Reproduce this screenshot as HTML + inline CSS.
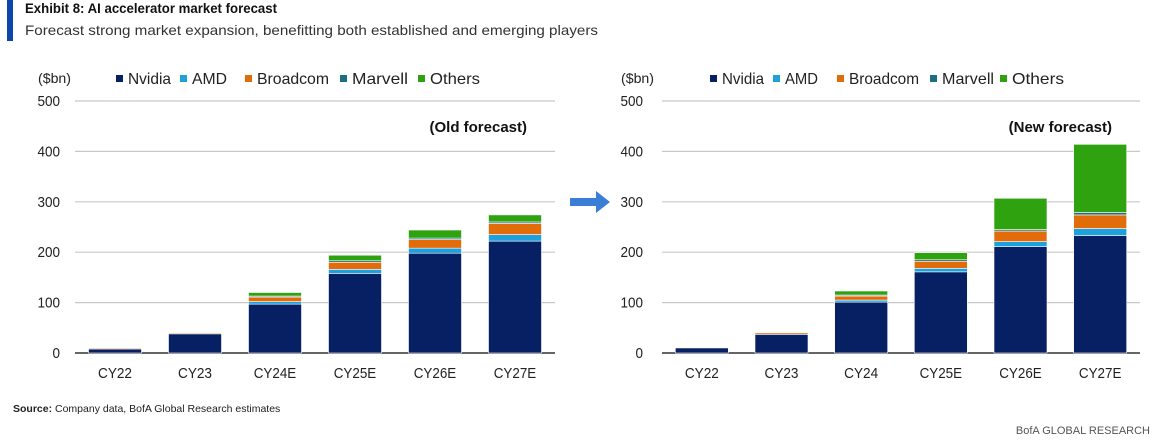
<!DOCTYPE html>
<html><head><meta charset="utf-8"><style>
body{margin:0;background:#fff;}
svg{display:block;font-family:"Liberation Sans",sans-serif;}
</style></head><body>
<svg id="c" width="1169" height="441">
<rect x="7" y="0" width="6" height="41" fill="#0a47a9"/>
<text x="25" y="13" font-size="13.5" font-weight="bold" fill="#111" textLength="252" lengthAdjust="spacingAndGlyphs">Exhibit 8: AI accelerator market forecast</text>
<text x="25" y="35" font-size="14" fill="#333" textLength="573" lengthAdjust="spacingAndGlyphs">Forecast strong market expansion, benefitting both established and emerging players</text>
<g id="left"></g>
<g id="right"></g>
<path d="M570 198 h26 v-7 l14 11 l-14 11 v-7 h-26z" fill="#3a7fd5"/>
<text x="13" y="412" font-size="10.5" fill="#222"><tspan font-weight="bold">Source:</tspan> Company data, BofA Global Research estimates</text>
<text x="1150" y="434" font-size="11" fill="#555" text-anchor="end">BofA GLOBAL RESEARCH</text>
</svg>
<script>
const seriesNames=["Nvidia","AMD","Broadcom","Marvell","Others"];
const colors=["#062063","#1da1dc","#e36c0a","#1b6f80","#2ea20f"];
const oldCats=["CY22","CY23","CY24E","CY25E","CY26E","CY27E"];
const newCats=["CY22","CY23","CY24","CY25E","CY26E","CY27E"];
const oldNvidia=[8,38,97,158,198,222];
const oldAMD=[0,0,5,8,10,13];
const oldBroadcom=[2,2,9,14,17,22];
const oldMarvell=[1,0,2,3,3,3];
const oldOthers=[1,1,7,11,16,14];
const newNvidia=[10,37,101,161,211,233];
const newAMD=[0,0,4,7,10,14];
const newBroadcom=[0,3,8,14,21,27];
const newMarvell=[0,0,2,3,3,5];
const newOthers=[0,1,8,14,62,135];
const yTicks=[0,100,200,300,400,500];
const NS="http://www.w3.org/2000/svg";
function mk(parent,tag,attrs){const e=document.createElementNS(NS,tag);for(const k in attrs)e.setAttribute(k,attrs[k]);parent.appendChild(e);return e;}
function panel(g,x0,x1,cats,series,label,tickX,legX,key,sqOff,txtW){
  const y0=353,y1=101;
  const ys=v=>y0-(v/500)*(y0-y1);
  const step=(x1-x0)/cats.length;
  yTicks.forEach(t=>{
    const l=mk(g,"line",{x1:x0,x2:x1,y1:ys(t),y2:ys(t),stroke:t===0?"#333":"#c8c8c8","stroke-width":t===0?1.5:1.2});
    
    
    const tx=mk(g,"text",{x:tickX,y:ys(t)+5,"font-size":15,fill:"#222","text-anchor":"end",textLength:String(t).length*7.5,lengthAdjust:"spacingAndGlyphs"});tx.textContent=t;
    
    
  });
  cats.forEach((c,i)=>{
    const cx=x0+step*(i+0.5);
    let acc=0;
    series.forEach((s,j)=>{
      const v=s[i];if(v<=0)return;
      const top=ys(acc+v),bot=ys(acc);
      const r=mk(g,"rect",{x:cx-26.5,width:53,y:top,height:Math.max(bot-top,0.5),fill:colors[j],stroke:"#fff","stroke-width":0.6});
      
      
      acc+=v;
    });
    const t=mk(g,"text",{x:cx,y:378,"font-size":15,fill:"#222","text-anchor":"middle",textLength:c.length*8.5,lengthAdjust:"spacingAndGlyphs"});t.textContent=c;
    
    
  });
  const u=mk(g,"text",{x:tickX+11,y:83,"font-size":14,fill:"#222","text-anchor":"end",textLength:33,lengthAdjust:"spacingAndGlyphs"});u.textContent="($bn)";
  
  
  seriesNames.forEach((n,j)=>{
    const lx=legX+sqOff[j];
    const sq=mk(g,"rect",{x:lx,y:75,width:7,height:7,fill:colors[j]});
    
    
    const t=mk(g,"text",{x:lx+12,y:84,"font-size":16,fill:"#222",textLength:txtW[j],lengthAdjust:"spacingAndGlyphs"});t.textContent=n;
    
    
  });
  const h=mk(g,"text",{x:x1-28,y:132,"font-size":15,"font-weight":"bold",fill:"#111","text-anchor":"end"});h.textContent=label;
  
  
}
panel(document.getElementById("left"),75,555,oldCats,[oldNvidia,oldAMD,oldBroadcom,oldMarvell,oldOthers],"(Old forecast)",60,116,"old",[0,64,129,224,302],[43,35,72,56,50]);
panel(document.getElementById("right"),662,1140,newCats,[newNvidia,newAMD,newBroadcom,newMarvell,newOthers],"(New forecast)",643,710,"new",[0,63,127,220,290],[42,33,70,52,52]);
</script>
</body></html>
